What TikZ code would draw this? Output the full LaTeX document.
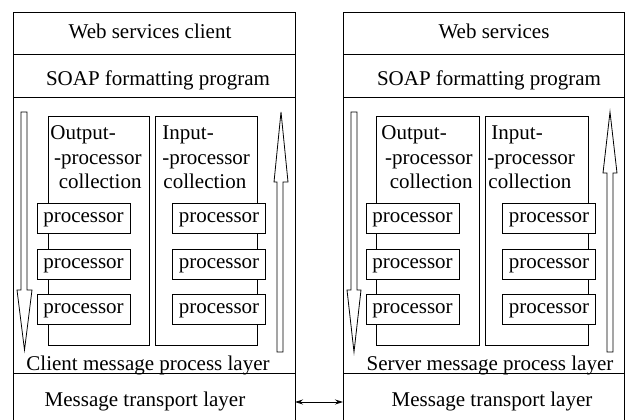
\documentclass[tikz,border=0pt]{standalone}
\usepackage{fontspec}
\setmainfont{Liberation Serif}
\usetikzlibrary{arrows.meta}
\begin{document}
\begin{tikzpicture}[x=1pt,y=-1pt,line width=0.9pt,
  every node/.style={font=\fontsize{21}{24}\selectfont, inner sep=0pt},
  frame/.style={draw=black, line width=0.9pt},
  coll/.style={draw=black, line width=0.9pt},
  proc/.style={draw=black, fill=white, line width=0.9pt, minimum width=93pt, minimum height=30pt, inner sep=0pt, text height=9.5pt, text depth=0pt},
  bigarrow/.style={draw=black, fill=white, line width=0.8pt, line join=miter},
  lbl/.style={anchor=base}
]
\useasboundingbox (0,0) rectangle (626,420);
\begin{scope}
\clip (0,0) rectangle (626,420);
% ---------- left stack ----------
\draw[frame] (13,425) -- (13,12) -- (295,12) -- (295,425);
\draw[frame] (13,54) -- (295,54);
\draw[frame] (13,97) -- (295,97);
\draw[frame] (13,373) -- (295,373);
% ---------- right stack ----------
\draw[frame] (343,425) -- (343,12) -- (624,12) -- (624,425);
\draw[frame] (343,54) -- (624,54);
\draw[frame] (343,97) -- (624,97);
\draw[frame] (343,373) -- (624,373);
\end{scope}

% layer labels
\node[lbl] (wsc) at (150,39) {Web services client};
\node[lbl] (soapl) at (158,85) {SOAP formatting program};
\node[lbl] (cmpl) at (148,370) {Client message process layer};
\node[lbl] (mtl) at (145,406) {Message transport layer};

\node[lbl] (ws) at (494,39) {Web services};
\node[lbl] (soapr) at (489,85) {SOAP formatting program};
\node[lbl] (smpl) at (490,370) {Server message process layer};
\node[lbl] (mtr) at (492,406) {Message transport layer};

% collection boxes
\draw[coll] (48,116) rectangle (149,345);
\draw[coll] (155,116) rectangle (257,345);
\draw[coll] (376,116) rectangle (479,345);
\draw[coll] (485,116) rectangle (588,345);

% collection labels, left stack
\node[anchor=base west] (lo1) at (50,139) {Output-};
\node[anchor=base east] (lo2) at (142,164) {-processor};
\node[anchor=base east] (lo3) at (142,188) {collection};
\node[anchor=base west] (li1) at (162,139) {Input-};
\node[anchor=base west] (li2) at (162,164) {-processor};
\node[anchor=base west] (li3) at (163,188) {collection};
% collection labels, right stack
\node[anchor=base west] (ro1) at (381,139) {Output-};
\node[anchor=base east] (ro2) at (473,164) {-processor};
\node[anchor=base east] (ro3) at (473,188) {collection};
\node[anchor=base west] (ri1) at (491,139) {Input-};
\node[anchor=base west] (ri2) at (487,164) {-processor};
\node[anchor=base west] (ri3) at (488,188) {collection};

% processors
\foreach \x/\n in {83.5/a,219/b,412.5/c,549/d}{
  \node[proc] (p\n1) at (\x,218) {processor};
  \node[proc] (p\n2) at (\x,264) {processor};
  \node[proc] (p\n3) at (\x,309) {processor};
}

% big hollow arrows
\draw[bigarrow] (21,112) -- (27,112) -- (27,290) -- (32,290) -- (24.5,350) -- (17,290) -- (21,290) -- cycle;
\draw[bigarrow] (277,352) -- (283,352) -- (283,182) -- (288,182) -- (281,112) -- (274,182) -- (277,182) -- cycle;
\draw[bigarrow] (351,112) -- (357,112) -- (357,290) -- (361,290) -- (354,352) -- (347,290) -- (351,290) -- cycle;
\draw[bigarrow] (607,352) -- (613,352) -- (613,173) -- (617,173) -- (610,112) -- (603,173) -- (607,173) -- cycle;

% transport link
\coordinate (le) at (295,402);
\coordinate (re) at (343,402);
\draw[line width=0.8pt, {Stealth[length=8pt,width=5pt]}-{Stealth[length=8pt,width=5pt]}] (le) -- (re);
\end{tikzpicture}
\end{document}
